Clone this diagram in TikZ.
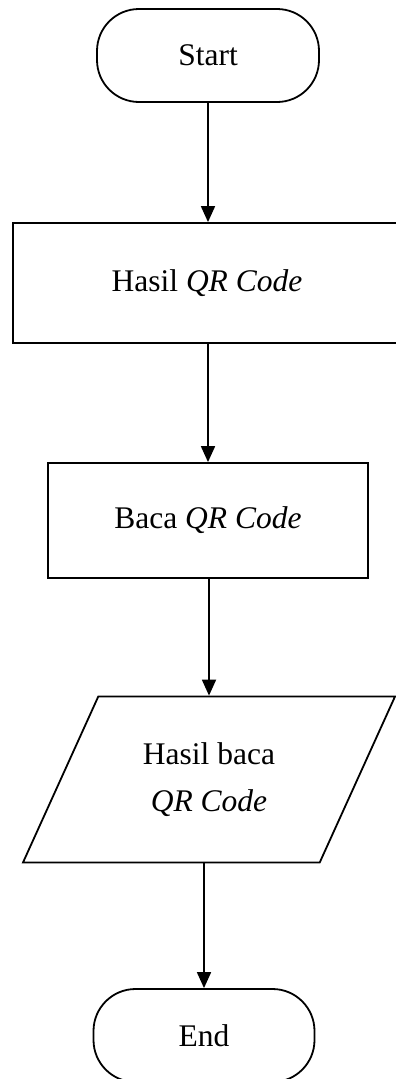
\documentclass[tikz,border=0pt]{standalone}
\usepackage{fontspec}
\setmainfont{Liberation Serif}
\usetikzlibrary{arrows.meta,shapes.geometric}

\tikzset{
    base/.style = {draw, line width = 1.8pt, align = center, inner sep = 0pt,
        font = \fontsize{31.5}{47}\selectfont},
    term/.style = {base, rectangle, rounded corners = 42pt},
    proc/.style = {base, rectangle},
    io/.style = {base, trapezium, trapezium left angle = 65.6,
        trapezium right angle = 114.4, trapezium stretches body},
    arr/.style = {line width = 1.8pt, -{Triangle[width = 14pt, length = 16pt]}}
}

\begin{document}
\begin{tikzpicture}[x = 1pt, y = -1pt]
        \useasboundingbox (0, 0) rectangle (396, 1079);

        \node [term, minimum width = 222pt, minimum height = 93pt] (start) at (208, 55.5) {Start};
        \node [proc, minimum width = 388pt, minimum height = 120pt] (hasil) at (207, 283) {Hasil \textit{QR Code}};
        \node [proc, minimum width = 320pt, minimum height = 115pt] (baca) at (208, 520.5) {Baca \textit{QR Code}};
        \node [io, inner ysep = 46pt, minimum width = 372pt] (out) at (209, 779.5) {Hasil baca\\\textit{QR Code}};
        \node [term, minimum width = 221pt, minimum height = 93pt] (end) at (204, 1035.5) {End};

        \draw [arr] (start) -- (start |- hasil.north);
        \draw [arr] (hasil.south -| start) -- (start |- baca.north);
        \draw [arr] (baca.south -| out) -- (out.north);
        \draw [arr] (out.south -| end) -- (end);
    \end{tikzpicture}
\end{document}
